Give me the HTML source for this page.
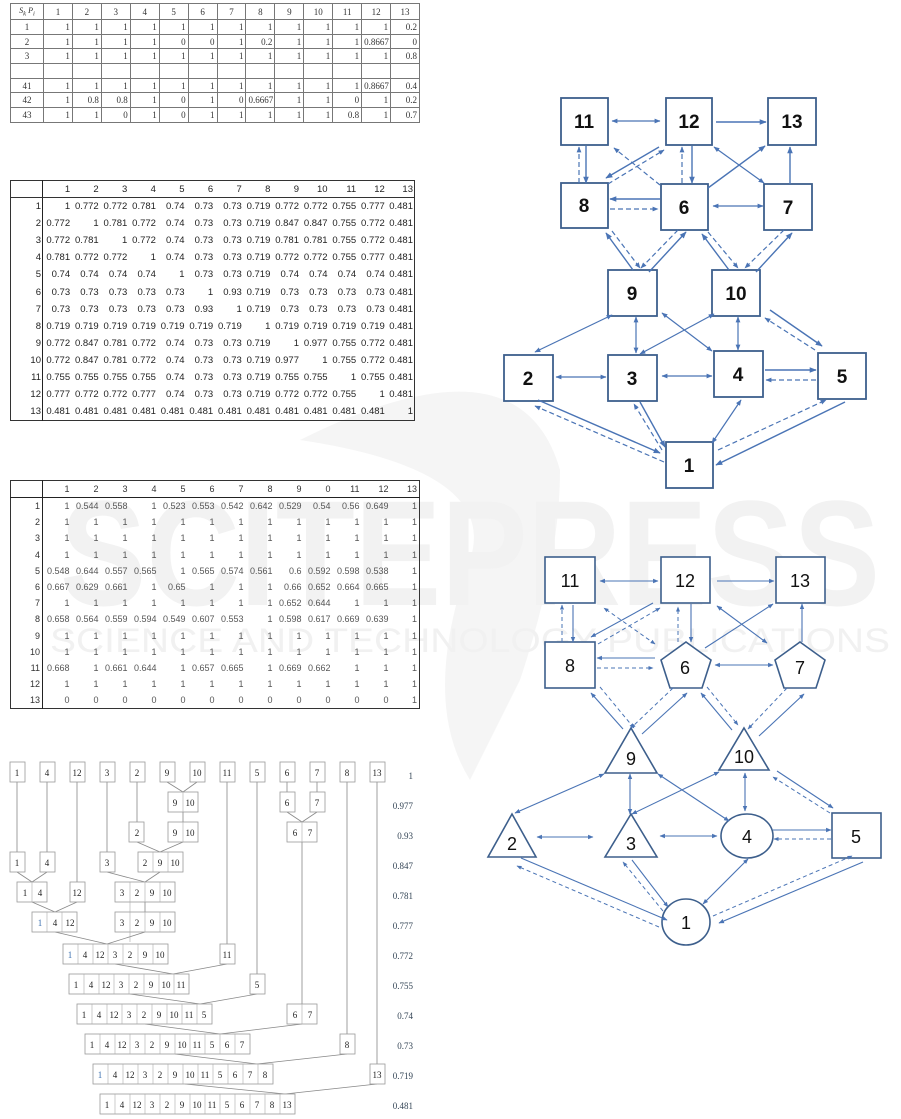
<!DOCTYPE html>
<html><head><meta charset="utf-8"><style>
body{margin:0;width:901px;height:1119px;background:#fff;position:relative;overflow:hidden;font-family:"Liberation Sans",sans-serif}
.wm{position:absolute;left:0;top:0}
table{position:absolute;border-collapse:collapse;table-layout:fixed}
.t1{left:10px;top:3px;width:410px;font-family:"Liberation Serif",serif;font-size:9px;color:#333}
.t1 td{border:1px solid #777;height:13.7px;padding:0 2px;text-align:right}
.t1 tr:first-child td{text-align:center;height:15px}
.t1 td:first-child{text-align:center}
.t2{left:10px;top:180px;width:405px;font-size:9.5px;color:#222;border:1px solid #333}
.t2 td{height:17.1px;padding:0 1px 0 0;text-align:right;white-space:nowrap}
.t2 tr:first-child td{border-bottom:1px solid #333;height:16px}
.t2 td:first-child{border-right:1.5px solid #222}
.t3{left:10px;top:480px;width:410px;font-size:9px;color:#555;border:1px solid #333}
.t3 td{height:16.2px;padding:0 2px 0 0;text-align:right;white-space:nowrap}
.t3 tr:first-child td{border-bottom:1.5px solid #222;height:16px;color:#333}
.t3 td:first-child{border-right:1.5px solid #222;color:#333}
svg.g{position:absolute;left:0;top:0}
</style></head><body>
<svg class="wm" width="901" height="1119">
<path d="M300 440 Q520 330 560 470 Q560 560 520 680 L470 780 Q420 700 470 560 Q500 470 300 440Z" fill="#f5f5f5"/>
<text x="470" y="605" font-size="150" font-weight="bold" fill="#f2f2f2" text-anchor="middle" font-family="Liberation Sans" textLength="820" lengthAdjust="spacingAndGlyphs">SCITEPRESS</text>
<text x="470" y="652" font-size="34" fill="#f1f1f1" text-anchor="middle" font-family="Liberation Sans" textLength="840" lengthAdjust="spacingAndGlyphs">SCIENCE AND TECHNOLOGY PUBLICATIONS</text>
</svg>

<table class="t1"><colgroup><col style="width:33px"><col span="13"></colgroup>
<tr><td style="font-style:italic;font-size:8px">S<sub>k</sub> P<sub>i</sub></td><td>1</td><td>2</td><td>3</td><td>4</td><td>5</td><td>6</td><td>7</td><td>8</td><td>9</td><td>10</td><td>11</td><td>12</td><td>13</td></tr>
<tr><td>1</td><td>1</td><td>1</td><td>1</td><td>1</td><td>1</td><td>1</td><td>1</td><td>1</td><td>1</td><td>1</td><td>1</td><td>1</td><td>0.2</td></tr>
<tr><td>2</td><td>1</td><td>1</td><td>1</td><td>1</td><td>0</td><td>0</td><td>1</td><td>0.2</td><td>1</td><td>1</td><td>1</td><td>0.8667</td><td>0</td></tr>
<tr><td>3</td><td>1</td><td>1</td><td>1</td><td>1</td><td>1</td><td>1</td><td>1</td><td>1</td><td>1</td><td>1</td><td>1</td><td>1</td><td>0.8</td></tr>
<tr><td></td><td></td><td></td><td></td><td></td><td></td><td></td><td></td><td></td><td></td><td></td><td></td><td></td><td></td></tr>
<tr><td>41</td><td>1</td><td>1</td><td>1</td><td>1</td><td>1</td><td>1</td><td>1</td><td>1</td><td>1</td><td>1</td><td>1</td><td>0.8667</td><td>0.4</td></tr>
<tr><td>42</td><td>1</td><td>0.8</td><td>0.8</td><td>1</td><td>0</td><td>1</td><td>0</td><td>0.6667</td><td>1</td><td>1</td><td>0</td><td>1</td><td>0.2</td></tr>
<tr><td>43</td><td>1</td><td>1</td><td>0</td><td>1</td><td>0</td><td>1</td><td>1</td><td>1</td><td>1</td><td>1</td><td>0.8</td><td>1</td><td>0.7</td></tr>
</table>

<table class="t2"><colgroup><col style="width:32px"><col span="13"></colgroup>
<tr><td></td><td>1</td><td>2</td><td>3</td><td>4</td><td>5</td><td>6</td><td>7</td><td>8</td><td>9</td><td>10</td><td>11</td><td>12</td><td>13</td></tr>
<tr><td>1</td><td>1</td><td>0.772</td><td>0.772</td><td>0.781</td><td>0.74</td><td>0.73</td><td>0.73</td><td>0.719</td><td>0.772</td><td>0.772</td><td>0.755</td><td>0.777</td><td>0.481</td></tr>
<tr><td>2</td><td>0.772</td><td>1</td><td>0.781</td><td>0.772</td><td>0.74</td><td>0.73</td><td>0.73</td><td>0.719</td><td>0.847</td><td>0.847</td><td>0.755</td><td>0.772</td><td>0.481</td></tr>
<tr><td>3</td><td>0.772</td><td>0.781</td><td>1</td><td>0.772</td><td>0.74</td><td>0.73</td><td>0.73</td><td>0.719</td><td>0.781</td><td>0.781</td><td>0.755</td><td>0.772</td><td>0.481</td></tr>
<tr><td>4</td><td>0.781</td><td>0.772</td><td>0.772</td><td>1</td><td>0.74</td><td>0.73</td><td>0.73</td><td>0.719</td><td>0.772</td><td>0.772</td><td>0.755</td><td>0.777</td><td>0.481</td></tr>
<tr><td>5</td><td>0.74</td><td>0.74</td><td>0.74</td><td>0.74</td><td>1</td><td>0.73</td><td>0.73</td><td>0.719</td><td>0.74</td><td>0.74</td><td>0.74</td><td>0.74</td><td>0.481</td></tr>
<tr><td>6</td><td>0.73</td><td>0.73</td><td>0.73</td><td>0.73</td><td>0.73</td><td>1</td><td>0.93</td><td>0.719</td><td>0.73</td><td>0.73</td><td>0.73</td><td>0.73</td><td>0.481</td></tr>
<tr><td>7</td><td>0.73</td><td>0.73</td><td>0.73</td><td>0.73</td><td>0.73</td><td>0.93</td><td>1</td><td>0.719</td><td>0.73</td><td>0.73</td><td>0.73</td><td>0.73</td><td>0.481</td></tr>
<tr><td>8</td><td>0.719</td><td>0.719</td><td>0.719</td><td>0.719</td><td>0.719</td><td>0.719</td><td>0.719</td><td>1</td><td>0.719</td><td>0.719</td><td>0.719</td><td>0.719</td><td>0.481</td></tr>
<tr><td>9</td><td>0.772</td><td>0.847</td><td>0.781</td><td>0.772</td><td>0.74</td><td>0.73</td><td>0.73</td><td>0.719</td><td>1</td><td>0.977</td><td>0.755</td><td>0.772</td><td>0.481</td></tr>
<tr><td>10</td><td>0.772</td><td>0.847</td><td>0.781</td><td>0.772</td><td>0.74</td><td>0.73</td><td>0.73</td><td>0.719</td><td>0.977</td><td>1</td><td>0.755</td><td>0.772</td><td>0.481</td></tr>
<tr><td>11</td><td>0.755</td><td>0.755</td><td>0.755</td><td>0.755</td><td>0.74</td><td>0.73</td><td>0.73</td><td>0.719</td><td>0.755</td><td>0.755</td><td>1</td><td>0.755</td><td>0.481</td></tr>
<tr><td>12</td><td>0.777</td><td>0.772</td><td>0.772</td><td>0.777</td><td>0.74</td><td>0.73</td><td>0.73</td><td>0.719</td><td>0.772</td><td>0.772</td><td>0.755</td><td>1</td><td>0.481</td></tr>
<tr><td>13</td><td>0.481</td><td>0.481</td><td>0.481</td><td>0.481</td><td>0.481</td><td>0.481</td><td>0.481</td><td>0.481</td><td>0.481</td><td>0.481</td><td>0.481</td><td>0.481</td><td>1</td></tr>
</table>

<table class="t3"><colgroup><col style="width:32px"><col span="13"></colgroup>
<tr><td></td><td>1</td><td>2</td><td>3</td><td>4</td><td>5</td><td>6</td><td>7</td><td>8</td><td>9</td><td>0</td><td>11</td><td>12</td><td>13</td></tr>
<tr><td>1</td><td>1</td><td>0.544</td><td>0.558</td><td>1</td><td>0.523</td><td>0.553</td><td>0.542</td><td>0.642</td><td>0.529</td><td>0.54</td><td>0.56</td><td>0.649</td><td>1</td></tr>
<tr><td>2</td><td>1</td><td>1</td><td>1</td><td>1</td><td>1</td><td>1</td><td>1</td><td>1</td><td>1</td><td>1</td><td>1</td><td>1</td><td>1</td></tr>
<tr><td>3</td><td>1</td><td>1</td><td>1</td><td>1</td><td>1</td><td>1</td><td>1</td><td>1</td><td>1</td><td>1</td><td>1</td><td>1</td><td>1</td></tr>
<tr><td>4</td><td>1</td><td>1</td><td>1</td><td>1</td><td>1</td><td>1</td><td>1</td><td>1</td><td>1</td><td>1</td><td>1</td><td>1</td><td>1</td></tr>
<tr><td>5</td><td>0.548</td><td>0.644</td><td>0.557</td><td>0.565</td><td>1</td><td>0.565</td><td>0.574</td><td>0.561</td><td>0.6</td><td>0.592</td><td>0.598</td><td>0.538</td><td>1</td></tr>
<tr><td>6</td><td>0.667</td><td>0.629</td><td>0.661</td><td>1</td><td>0.65</td><td>1</td><td>1</td><td>1</td><td>0.66</td><td>0.652</td><td>0.664</td><td>0.665</td><td>1</td></tr>
<tr><td>7</td><td>1</td><td>1</td><td>1</td><td>1</td><td>1</td><td>1</td><td>1</td><td>1</td><td>0.652</td><td>0.644</td><td>1</td><td>1</td><td>1</td></tr>
<tr><td>8</td><td>0.658</td><td>0.564</td><td>0.559</td><td>0.594</td><td>0.549</td><td>0.607</td><td>0.553</td><td>1</td><td>0.598</td><td>0.617</td><td>0.669</td><td>0.639</td><td>1</td></tr>
<tr><td>9</td><td>1</td><td>1</td><td>1</td><td>1</td><td>1</td><td>1</td><td>1</td><td>1</td><td>1</td><td>1</td><td>1</td><td>1</td><td>1</td></tr>
<tr><td>10</td><td>1</td><td>1</td><td>1</td><td>1</td><td>1</td><td>1</td><td>1</td><td>1</td><td>1</td><td>1</td><td>1</td><td>1</td><td>1</td></tr>
<tr><td>11</td><td>0.668</td><td>1</td><td>0.661</td><td>0.644</td><td>1</td><td>0.657</td><td>0.665</td><td>1</td><td>0.669</td><td>0.662</td><td>1</td><td>1</td><td>1</td></tr>
<tr><td>12</td><td>1</td><td>1</td><td>1</td><td>1</td><td>1</td><td>1</td><td>1</td><td>1</td><td>1</td><td>1</td><td>1</td><td>1</td><td>1</td></tr>
<tr><td>13</td><td>0</td><td>0</td><td>0</td><td>0</td><td>0</td><td>0</td><td>0</td><td>0</td><td>0</td><td>0</td><td>0</td><td>0</td><td>1</td></tr>
</table>

<svg class="g" width="901" height="1119">
<defs>
<marker id="a" viewBox="0 0 10 10" refX="9" refY="5" markerWidth="5" markerHeight="5" orient="auto-start-reverse"><path d="M0 1L10 5L0 9Z" fill="#4a74b5"/></marker>
</defs>
<g stroke="#888" stroke-width="0.8" fill="none">
<path d="M17 782V852M47 782V852M77 782V882M107 782V852M137 782V822M167 782L183 792M197 782L183 792M227 782V944M257 782V974M287 782V792M317 782V792M347 782V1034M377 782V1064"/>
<path d="M183 812V822M287 812L302 822M317 812L302 822M137 842L160 852M183 842L160 852M302 842V1004"/>
<path d="M17 872L32 882M47 872L32 882M107 872L145 882M160 872L145 882M32 902L55 912M77 902L55 912M145 902V912"/>
<path d="M55 932L107 944M145 932L107 944M115 964L173 974M227 964L173 974M130 994L200 1004M257 994L200 1004M145 1024L220 1034M302 1024L220 1034M175 1054L257 1064M347 1054L257 1064M185 1084L285 1094M377 1084L285 1094"/>
</g>
<g font-family="Liberation Serif" font-size="9" text-anchor="middle" fill="#222">
<g fill="#fff" stroke="#999" stroke-width="0.8">
<rect x="10" y="762" width="15" height="20"/><rect x="40" y="762" width="15" height="20"/><rect x="70" y="762" width="15" height="20"/><rect x="100" y="762" width="15" height="20"/><rect x="130" y="762" width="15" height="20"/><rect x="160" y="762" width="15" height="20"/><rect x="190" y="762" width="15" height="20"/><rect x="220" y="762" width="15" height="20"/><rect x="250" y="762" width="15" height="20"/><rect x="280" y="762" width="15" height="20"/><rect x="310" y="762" width="15" height="20"/><rect x="340" y="762" width="15" height="20"/><rect x="370" y="762" width="15" height="20"/>
<rect x="168" y="792" width="30" height="20"/><rect x="280" y="792" width="15" height="20"/><rect x="310" y="792" width="15" height="20"/>
<rect x="129" y="822" width="15" height="20"/><rect x="168" y="822" width="30" height="20"/><rect x="287" y="822" width="30" height="20"/>
<rect x="10" y="852" width="15" height="20"/><rect x="40" y="852" width="15" height="20"/><rect x="100" y="852" width="15" height="20"/><rect x="138" y="852" width="45" height="20"/>
<rect x="17" y="882" width="30" height="20"/><rect x="70" y="882" width="15" height="20"/><rect x="115" y="882" width="60" height="20"/>
<rect x="32" y="912" width="45" height="20"/><rect x="115" y="912" width="60" height="20"/>
<rect x="63" y="944" width="105" height="20"/><rect x="220" y="944" width="15" height="20"/>
<rect x="69" y="974" width="120" height="20"/><rect x="250" y="974" width="15" height="20"/>
<rect x="77" y="1004" width="135" height="20"/><rect x="287" y="1004" width="30" height="20"/>
<rect x="85" y="1034" width="165" height="20"/><rect x="340" y="1034" width="15" height="20"/>
<rect x="93" y="1064" width="180" height="20"/><rect x="370" y="1064" width="15" height="20"/>
<rect x="100" y="1094" width="195" height="20"/>
</g>
<g stroke="#aaa" stroke-width="0.6">
<path d="M183 792v20M183 822v20M302 822v20M32 882v20M153 852v20M168 852v20M130 882v60M145 882v20M160 882v20M47 912v20M62 912v20M130 912v20M145 912v20M160 912v20"/>
<path d="M78 944v20M93 944v20M108 944v20M123 944v20M138 944v20M153 944v20"/>
<path d="M84 974v20M99 974v20M114 974v20M129 974v20M144 974v20M159 974v20M174 974v20"/>
<path d="M92 1004v20M107 1004v20M122 1004v20M137 1004v20M152 1004v20M167 1004v20M182 1004v20M197 1004v20M302 1004v20"/>
<path d="M100 1034v20M115 1034v20M130 1034v20M145 1034v20M160 1034v20M175 1034v20M190 1034v20M205 1034v20M220 1034v20M235 1034v20"/>
<path d="M108 1064v20M123 1064v20M138 1064v20M153 1064v20M168 1064v20M183 1064v20M198 1064v20M213 1064v20M228 1064v20M243 1064v20M258 1064v20"/>
<path d="M115 1094v20M130 1094v20M145 1094v20M160 1094v20M175 1094v20M190 1094v20M205 1094v20M220 1094v20M235 1094v20M250 1094v20M265 1094v20M280 1094v20"/>
</g>
<text x="17" y="776">1</text><text x="47" y="776">4</text><text x="77" y="776">12</text><text x="107" y="776">3</text><text x="137" y="776">2</text><text x="167" y="776">9</text><text x="197" y="776">10</text><text x="227" y="776">11</text><text x="257" y="776">5</text><text x="287" y="776">6</text><text x="317" y="776">7</text><text x="347" y="776">8</text><text x="377" y="776">13</text>
<text x="175" y="806">9</text><text x="190" y="806">10</text><text x="287" y="806">6</text><text x="317" y="806">7</text>
<text x="137" y="836">2</text><text x="175" y="836">9</text><text x="190" y="836">10</text><text x="295" y="836">6</text><text x="310" y="836">7</text>
<text x="17" y="866">1</text><text x="47" y="866">4</text><text x="107" y="866">3</text><text x="145" y="866">2</text><text x="160" y="866">9</text><text x="175" y="866">10</text>
<text x="25" y="896">1</text><text x="40" y="896">4</text><text x="77" y="896">12</text><text x="122" y="896">3</text><text x="137" y="896">2</text><text x="152" y="896">9</text><text x="167" y="896">10</text>
<text x="40" y="926" fill="#3a6fb0">1</text><text x="55" y="926">4</text><text x="70" y="926">12</text><text x="122" y="926">3</text><text x="137" y="926">2</text><text x="152" y="926">9</text><text x="167" y="926">10</text>
<text x="70" y="958" fill="#3a6fb0">1</text><text x="85" y="958">4</text><text x="100" y="958">12</text><text x="115" y="958">3</text><text x="130" y="958">2</text><text x="145" y="958">9</text><text x="160" y="958">10</text><text x="227" y="958">11</text>
<text x="76" y="988">1</text><text x="91" y="988">4</text><text x="106" y="988">12</text><text x="121" y="988">3</text><text x="136" y="988">2</text><text x="151" y="988">9</text><text x="166" y="988">10</text><text x="181" y="988">11</text><text x="257" y="988">5</text>
<text x="84" y="1018">1</text><text x="99" y="1018">4</text><text x="114" y="1018">12</text><text x="129" y="1018">3</text><text x="144" y="1018">2</text><text x="159" y="1018">9</text><text x="174" y="1018">10</text><text x="189" y="1018">11</text><text x="204" y="1018">5</text><text x="295" y="1018">6</text><text x="310" y="1018">7</text>
<text x="92" y="1048">1</text><text x="107" y="1048">4</text><text x="122" y="1048">12</text><text x="137" y="1048">3</text><text x="152" y="1048">2</text><text x="167" y="1048">9</text><text x="182" y="1048">10</text><text x="197" y="1048">11</text><text x="212" y="1048">5</text><text x="227" y="1048">6</text><text x="242" y="1048">7</text><text x="347" y="1048">8</text>
<text x="100" y="1078" fill="#3a6fb0">1</text><text x="115" y="1078">4</text><text x="130" y="1078">12</text><text x="145" y="1078">3</text><text x="160" y="1078">2</text><text x="175" y="1078">9</text><text x="190" y="1078">10</text><text x="205" y="1078">11</text><text x="220" y="1078">5</text><text x="235" y="1078">6</text><text x="250" y="1078">7</text><text x="265" y="1078">8</text><text x="377" y="1078">13</text>
<text x="107" y="1108">1</text><text x="122" y="1108">4</text><text x="137" y="1108">12</text><text x="152" y="1108">3</text><text x="167" y="1108">2</text><text x="182" y="1108">9</text><text x="197" y="1108">10</text><text x="212" y="1108">11</text><text x="227" y="1108">5</text><text x="242" y="1108">6</text><text x="257" y="1108">7</text><text x="272" y="1108">8</text><text x="287" y="1108">13</text>
</g>
<g font-family="Liberation Serif" font-size="9" text-anchor="end" fill="#345">
<text x="413" y="779">1</text><text x="413" y="809">0.977</text><text x="413" y="839">0.93</text><text x="413" y="869">0.847</text><text x="413" y="899">0.781</text><text x="413" y="929">0.777</text><text x="413" y="959">0.772</text><text x="413" y="989">0.755</text><text x="413" y="1019">0.74</text><text x="413" y="1049">0.73</text><text x="413" y="1079">0.719</text><text x="413" y="1109">0.481</text>
</g>

<g fill="#fff" stroke="#3d5f8c" stroke-width="1.8">
<rect x="561" y="98" width="47" height="47"/><rect x="666" y="98" width="46" height="47"/><rect x="768" y="98" width="48" height="47"/>
<rect x="561" y="183" width="47" height="45"/><rect x="661" y="184" width="47" height="46"/><rect x="764" y="184" width="48" height="46"/>
<rect x="608" y="270" width="49" height="46"/><rect x="712" y="270" width="48" height="46"/>
<rect x="504" y="355" width="49" height="46"/><rect x="608" y="355" width="49" height="46"/><rect x="714" y="351" width="49" height="46"/><rect x="818" y="353" width="48" height="46"/>
<rect x="666" y="442" width="47" height="46"/>
</g>
<g font-family="Liberation Sans" font-weight="bold" font-size="19" text-anchor="middle" fill="#111">
<text x="584" y="128">11</text><text x="689" y="128">12</text><text x="792" y="128">13</text>
<text x="584" y="212">8</text><text x="684" y="214">6</text><text x="788" y="214">7</text>
<text x="632" y="300">9</text><text x="736" y="300">10</text>
<text x="528" y="385">2</text><text x="632" y="385">3</text><text x="738" y="381">4</text><text x="842" y="383">5</text>
<text x="689" y="472">1</text>
</g>
<g stroke="#4a74b5" stroke-width="1.4" fill="none" marker-end="url(#a)">
<path d="M716 122H766"/><path d="M586 146V183"/><path d="M659 147L606 178"/><path d="M692 146V183"/>
<path d="M708 188L765 146"/><path d="M790 184V147"/><path d="M660 199H610"/>
<path d="M633 270L606 233"/><path d="M649 272L686 232"/><path d="M729 270L702 234"/><path d="M756 272L792 233"/>
<path d="M770 310L822 346"/><path d="M765 370H816"/><path d="M538 400L660 453"/><path d="M640 402L665 447"/><path d="M845 402L716 465"/>
</g>
<g stroke="#4a74b5" stroke-width="1.2" fill="none" marker-start="url(#a)" marker-end="url(#a)">
<path d="M612 121H660"/><path d="M714 147L764 183"/><path d="M713 206H763"/><path d="M612 315L535 352"/><path d="M636 317V353"/>
<path d="M662 313L712 351"/><path d="M714 314L640 354"/><path d="M738 317V350"/><path d="M556 377H606"/><path d="M662 376H712"/><path d="M712 443L741 400"/>
</g>
<g stroke="#4a74b5" stroke-width="1.2" fill="none" stroke-dasharray="5,3" marker-end="url(#a)">
<path d="M579 183V147"/><path d="M608 184L664 150"/><path d="M660 185L614 148"/><path d="M682 183V147"/><path d="M610 209H658"/>
<path d="M612 231L640 268"/><path d="M678 230L641 268"/><path d="M708 232L738 268"/><path d="M784 230L745 268"/>
<path d="M815 350L765 318"/><path d="M816 380H766"/><path d="M664 462L535 406"/><path d="M662 450L634 404"/><path d="M718 450L826 400"/>
</g>

<g fill="#fff" stroke="#3d5f8c" stroke-width="1.6">
<rect x="545" y="557" width="50" height="46"/><rect x="661" y="557" width="49" height="46"/><rect x="776" y="557" width="49" height="46"/>
<rect x="545" y="642" width="50" height="46"/>
<polygon points="686,642 711,660 702,688 670,688 661,660"/><polygon points="800,642 825,660 816,688 784,688 775,660"/>
<polygon points="631,728 657,773 605,773"/><polygon points="744,728 769,770 719,770"/>
<polygon points="512,814 536,857 488,857"/><polygon points="631,814 657,857 605,857"/>
<ellipse cx="747" cy="836" rx="26" ry="22"/><rect x="832" y="813" width="49" height="45"/>
<ellipse cx="686" cy="922" rx="24" ry="23"/>
</g>
<g font-family="Liberation Sans" font-size="18" text-anchor="middle" fill="#111">
<text x="570" y="587">11</text><text x="685" y="587">12</text><text x="800" y="587">13</text>
<text x="570" y="672">8</text><text x="685" y="674">6</text><text x="800" y="674">7</text>
<text x="631" y="765">9</text><text x="744" y="763">10</text>
<text x="512" y="850">2</text><text x="631" y="850">3</text><text x="747" y="843">4</text><text x="856" y="843">5</text>
<text x="686" y="929">1</text>
</g>
<g stroke="#4a74b5" stroke-width="1.1" fill="none" marker-end="url(#a)">
<path d="M717 581H774"/><path d="M573 605V642"/><path d="M653 603L591 637"/><path d="M691 604V642"/>
<path d="M705 648L773 604"/><path d="M802 642V604"/><path d="M655 658H597"/>
<path d="M623 729L591 693"/><path d="M642 734L687 693"/><path d="M732 730L701 693"/><path d="M759 736L804 694"/>
<path d="M777 771L833 808"/><path d="M773 830H831"/><path d="M521 858L667 920"/><path d="M632 860L668 907"/><path d="M863 862L719 923"/>
</g>
<g stroke="#4a74b5" stroke-width="1.1" fill="none" marker-start="url(#a)" marker-end="url(#a)">
<path d="M600 581H658"/><path d="M717 606L767 643"/><path d="M715 665H773"/><path d="M604 774L515 813"/><path d="M630 774V814"/>
<path d="M658 774L729 821"/><path d="M719 772L632 814"/><path d="M745 773V811"/><path d="M537 837H593"/><path d="M660 836H717"/><path d="M703 904L748 859"/>
</g>
<g stroke="#4a74b5" stroke-width="1" fill="none" stroke-dasharray="4,3" marker-end="url(#a)">
<path d="M562 642V605"/><path d="M598 644L660 608"/><path d="M678 642V607"/><path d="M597 668H653"/>
<path d="M600 687L634 728"/><path d="M673 688L631 728"/><path d="M707 687L738 725"/><path d="M787 688L748 729"/>
<path d="M830 813L773 777"/><path d="M831 839H774"/><path d="M659 927L517 866"/><path d="M663 911L623 862"/><path d="M713 916L852 856"/>
</g>
<path d="M655 644L604 608" stroke="#4a74b5" stroke-width="1" fill="none" stroke-dasharray="4,3" marker-start="url(#a)" marker-end="url(#a)"/>
</svg>
</body></html>
